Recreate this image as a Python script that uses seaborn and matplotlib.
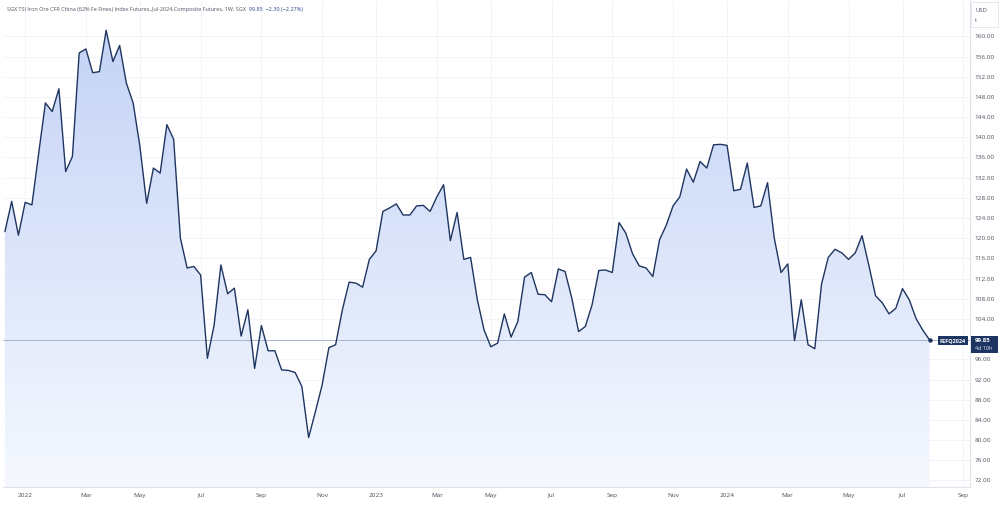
import numpy as np
import pandas as pd
import matplotlib.pyplot as plt
import matplotlib.dates as mdates
from matplotlib.colors import LinearSegmentedColormap
from matplotlib.patches import PathPatch, Rectangle
import seaborn as sns

# weekly closes
start_date = '2021-12-13'
prices = [121.3, 127.3, 120.6, 127.1, 126.6, 136.8, 146.8, 145.1, 149.6, 133.2,
          136.2, 156.7, 157.5, 152.8, 153.0, 161.2, 155.0, 158.2, 150.7, 146.8,
          138.2, 126.9, 133.9, 132.9, 142.5, 139.6, 120.0, 114.1, 114.4, 112.7,
          96.2, 102.8, 114.7, 109.0, 110.1, 100.6, 105.8, 94.2, 102.7, 97.7,
          97.7, 93.9, 93.8, 93.4, 90.6, 80.5, 85.6, 90.9, 98.3, 98.9,
          105.8, 111.3, 111.1, 110.3, 115.8, 117.5, 125.3, 126.0, 126.8, 124.6,
          124.6, 126.4, 126.5, 125.3, 128.2, 130.6, 119.5, 125.1, 115.8, 116.2,
          107.8, 101.8, 98.5, 99.2, 105.0, 100.4, 103.5, 112.3, 113.2, 108.9,
          108.8, 107.4, 113.9, 113.4, 108.1, 101.5, 102.5, 106.8, 113.6, 113.7,
          113.2, 123.1, 121.0, 116.9, 114.5, 114.1, 112.4, 119.7, 122.6, 126.4,
          128.2, 133.7, 131.1, 135.2, 133.9, 138.5, 138.6, 138.4, 129.4, 129.7,
          134.9, 126.1, 126.4, 131.0, 120.0, 113.2, 114.9, 99.7, 107.8, 98.9,
          98.1, 110.9, 116.2, 117.8, 117.1, 115.8, 117.1, 120.5, 114.7, 108.6,
          107.2, 105.0, 106.1, 110.0, 107.8, 104.1, 101.8, 99.85]
last_price = 99.85
price_ticks = [72, 76, 80, 84, 88, 92, 96, 104, 108, 112, 116, 120, 124, 128,
               132, 136, 140, 144, 148, 152, 156, 160]
tick_months = ['2022-01', '2022-03', '2022-05', '2022-07', '2022-09', '2022-11',
               '2023-01', '2023-03', '2023-05', '2023-07', '2023-09', '2023-11',
               '2024-01', '2024-03', '2024-05', '2024-07', '2024-09']
tick_labels = ['2022', 'Mar', 'May', 'Jul', 'Sep', 'Nov',
               '2023', 'Mar', 'May', 'Jul', 'Sep', 'Nov',
               '2024', 'Mar', 'May', 'Jul', 'Sep']
title = 'SGX TSI Iron Ore CFR China (62% Fe Fines) Index Futures,,Jul-2024,Composite Futures, 1W, SGX'
quote = '  99.85  \u22122.30 (\u22122.27%)'

df = pd.DataFrame({'date': pd.date_range(start_date, periods=len(prices), freq='W-MON'),
                   'price': prices})

sns.set_style('white')
plt.rcParams['font.family'] = ['Open Sans', 'DejaVu Sans']

W, H = 1000, 508
fig = plt.figure(figsize=(10, 5.08), dpi=100)
ax = fig.add_axes([3 / W, 21 / H, 967 / W, 487 / H])

ymin, ymax = 70.7, 167.2
x0, x1 = pd.Timestamp('2021-12-11'), pd.Timestamp('2024-09-09')

# gradient area under the line
fill = ax.fill_between(df['date'], df['price'], ymin, facecolor='none', edgecolor='none')
patch = PathPatch(fill.get_paths()[0], transform=ax.transData, facecolor='none', edgecolor='none')
ax.add_patch(patch)
cmap = LinearSegmentedColormap.from_list('tv', ['#f5f8fe', '#c4d3f6'])
grad = np.linspace(0, 1, 256).reshape(-1, 1)
im = ax.imshow(grad, extent=[mdates.date2num(x0), mdates.date2num(x1), ymin, 162],
               origin='lower', aspect='auto', cmap=cmap, zorder=1)
im.set_clip_path(patch)

ax.axhline(last_price, color='#a7b4c9', lw=0.7, zorder=2)
sns.lineplot(data=df, x='date', y='price', color='#1e3560', lw=1.0, ax=ax, zorder=3)
ax.plot(df['date'].iloc[-1], prices[-1], 'o', ms=2.2, color='#1e3560', zorder=4)

ax.set_xlim(x0, x1)
ax.set_ylim(ymin, ymax)

xticks = [pd.offsets.Week(weekday=0).rollforward(pd.Timestamp(m + '-01')) for m in tick_months]
ax.set_xticks(xticks)
ax.set_xticklabels(tick_labels)
ax.yaxis.tick_right()
ax.set_yticks(price_ticks)
ax.set_yticklabels([f'{v:.2f}' for v in price_ticks])
ax.set_xlabel('')
ax.set_ylabel('')
ax.tick_params(axis='x', length=0, pad=4, labelsize=4.6, colors='#4a4f5c')
ax.tick_params(axis='y', length=0, pad=3.5, labelsize=4.6, colors='#4a4f5c')
ax.grid(True, color='#f1f3f8', lw=0.6, zorder=0)
for s in ['top', 'left']:
    ax.spines[s].set_visible(False)
for s in ['right', 'bottom']:
    ax.spines[s].set_color('#e0e3eb')
    ax.spines[s].set_linewidth(0.8)

# header
t = fig.text(7 / W, 1 - 9 / H, title, fontsize=3.95, color='#4f5463', va='center')
fig.canvas.draw()
ax.annotate(quote, xy=(1, 0.5), xycoords=t, va='center', fontsize=3.95, color='#2d4a8a',
            annotation_clip=False)

# unit box
fig.patches.append(Rectangle((971 / W, 1 - 27 / H), 27 / W, 25 / H, transform=fig.transFigure,
                             facecolor='white', edgecolor='#e0e3eb', lw=0.6))
fig.text(975 / W, 1 - 10 / H, 'USD', fontsize=4.2, color='#4a4f5c', va='center')
fig.text(975 / W, 1 - 21 / H, 't', fontsize=4.2, color='#4a4f5c', va='center')

# last price labels
navy = '#1c3561'
fig.patches.append(Rectangle((938 / W, 1 - 345 / H), 30 / W, 9 / H, transform=fig.transFigure,
                             facecolor=navy, edgecolor='none'))
fig.text(953 / W, 1 - 340.5 / H, 'FEFQ2024', fontsize=4.0, color='white', ha='center',
         va='center', fontweight='bold')
fig.patches.append(Rectangle((971 / W, 1 - 353 / H), 27 / W, 17 / H, transform=fig.transFigure,
                             facecolor=navy, edgecolor='none'))
fig.text(975 / W, 1 - 340.5 / H, f'{last_price:.2f}', fontsize=4.3, color='white',
         va='center', fontweight='bold')
fig.text(975 / W, 1 - 348.5 / H, '4d 10h', fontsize=4.0, color='#dfe6f5', va='center')

fig.savefig('out.png', dpi=100)
